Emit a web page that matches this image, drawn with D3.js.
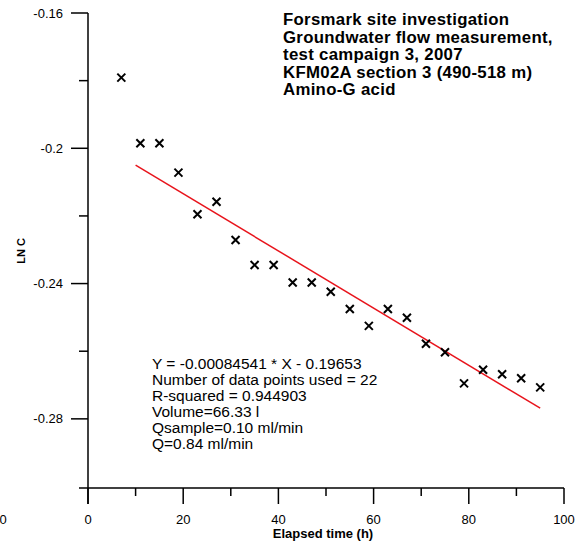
<!DOCTYPE html>
<html>
<head>
<meta charset="utf-8">
<script src="https://cdn.jsdelivr.net/npm/d3@7"></script>
<style>
  body { margin: 0; background: #fff; }
  text { font-family: "Liberation Sans", Arial, sans-serif; }
</style>
</head>
<body>
<div id="chart"></div>
<script>
// measured points: elapsed time (h) vs LN C
const timeH = [7, 11, 15, 19, 23, 27, 31, 35, 39, 43, 47, 51, 55, 59, 63, 67, 71, 75, 79, 83, 87, 91, 95];
const lnC = [-0.1791, -0.1985, -0.1985, -0.2072, -0.2195, -0.2158, -0.2271, -0.2345, -0.2345, -0.2397,
             -0.2397, -0.2424, -0.2475, -0.2525, -0.2475, -0.2501, -0.2578, -0.2603, -0.2695, -0.2655,
             -0.2668, -0.2680, -0.2707];

// regression line
const slope = -0.00084541;
const intercept = -0.19653;
const fitRange = [10, 95];

const xTicks = [0, 20, 40, 60, 80, 100];
const yTicks = [-0.16, -0.2, -0.24, -0.28];

const titleLines = [
  "Forsmark site investigation",
  "Groundwater flow measurement,",
  "test campaign 3, 2007",
  "KFM02A section 3 (490-518 m)",
  "Amino-G acid"
];
const infoLines = [
  "Y = -0.00084541 * X - 0.19653",
  "Number of data points used = 22",
  "R-squared = 0.944903",
  "Volume=66.33 l",
  "Qsample=0.10 ml/min",
  "Q=0.84 ml/min"
];

const W = 581, H = 543;
const svg = d3.select("#chart").append("svg")
  .attr("width", W).attr("height", H);

const x = d3.scaleLinear().domain([0, 100]).range([88, 564]);
const y = d3.scaleLinear().domain([-0.16, -0.30]).range([13, 486.5]);
const axisY = 488;

//////// axes
const ax = svg.append("g").attr("stroke", "#000").attr("stroke-width", 1.5).attr("fill", "none");
// y axis line (runs down past x axis to tick length)
ax.append("line").attr("x1", 88).attr("x2", 88).attr("y1", y(-0.16)).attr("y2", axisY + 16);
// x axis line
ax.append("line").attr("x1", 79).attr("x2", x(100)).attr("y1", axisY).attr("y2", axisY);

// y ticks major + minor
d3.range(-0.16, -0.2801, -0.02).forEach((v, i) => {
  const len = i % 2 === 0 ? 17 : 9;
  ax.append("line").attr("x1", 88 - len).attr("x2", 88).attr("y1", y(v)).attr("y2", y(v));
});
// x ticks
d3.range(0, 100.1, 10).forEach((v, i) => {
  const len = i % 2 === 0 ? 16 : 8;
  ax.append("line").attr("x1", x(v)).attr("x2", x(v)).attr("y1", axisY).attr("y2", axisY + len);
});

svg.append("g").attr("font-size", 13).attr("text-anchor", "end")
  .selectAll("text").data(yTicks).join("text")
  .attr("x", 63).attr("y", d => y(d)).attr("dy", "0.35em")
  .text(d => String(d));

svg.append("g").attr("font-size", 13).attr("text-anchor", "middle")
  .selectAll("text").data(xTicks).join("text")
  .attr("x", d => x(d)).attr("y", 524)
  .text(d => d);

// stray zero label at far left
svg.append("text").attr("x", 3).attr("y", 524).attr("font-size", 13)
  .attr("text-anchor", "middle").text("0");

svg.append("text").attr("x", 323).attr("y", 538).attr("font-size", 13)
  .attr("font-weight", "bold").attr("text-anchor", "middle").text("Elapsed time (h)");

svg.append("text").attr("transform", "translate(25,251) rotate(-90)")
  .attr("font-size", 11).attr("font-weight", "bold").attr("text-anchor", "middle").text("LN C");

//////// regression line
svg.append("line")
  .attr("x1", x(fitRange[0])).attr("y1", y(slope * fitRange[0] + intercept))
  .attr("x2", x(fitRange[1])).attr("y2", y(slope * fitRange[1] + intercept))
  .attr("stroke", "#e8141c").attr("stroke-width", 1.5);

//////// points
const s = 4;
svg.append("g").attr("stroke", "#000").attr("stroke-width", 2)
  .selectAll("path").data(timeH.map((t, i) => [t, lnC[i]])).join("path")
  .attr("d", d => {
    const px = x(d[0]), py = y(d[1]);
    return `M${px - s},${py - s}L${px + s},${py + s}M${px - s},${py + s}L${px + s},${py - s}`;
  });

//////// title
svg.append("g").attr("font-size", 16.8).attr("font-weight", "bold")
  .attr("letter-spacing", 0.3)
  .selectAll("text").data(titleLines).join("text")
  .attr("x", 283).attr("y", (d, i) => 25 + i * 17.5)
  .text(d => d);

//////// info block
svg.append("g").attr("font-size", 15.5)
  .selectAll("text").data(infoLines).join("text")
  .attr("x", 152).attr("y", (d, i) => 369 + i * 16)
  .text(d => d);
</script>
</body>
</html>
